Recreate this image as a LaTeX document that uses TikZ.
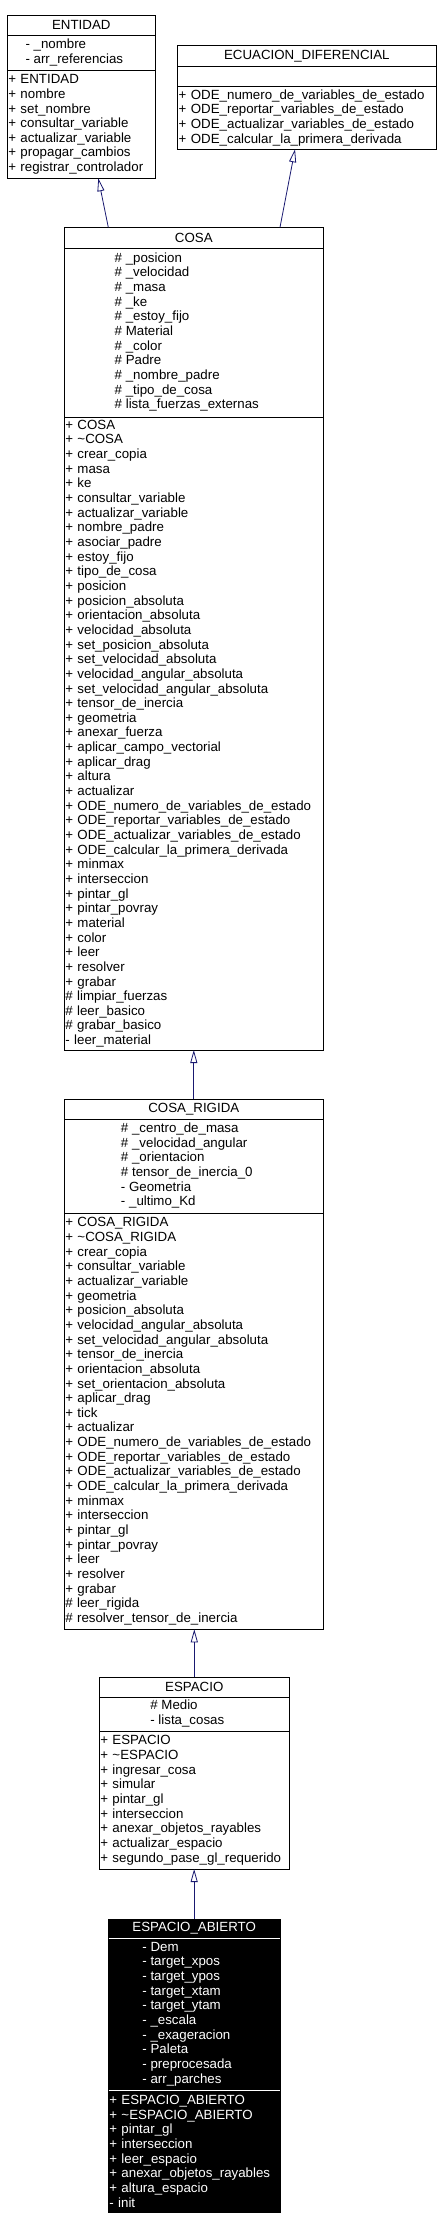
\documentclass[tikz,border=0pt]{standalone}
\usepackage{fontspec}
\setmainfont{Liberation Sans}
\usetikzlibrary{positioning,arrows.meta}
\definecolor{edgeblue}{HTML}{191970}
\newcommand{\attrs}[1]{\begin{tabular}{@{}l@{}}#1\end{tabular}\hspace*{14pt}}

\begin{document}
\begin{tikzpicture}[x=1pt, y=-1pt,
        box/.style={rectangle, draw, line width=0.8pt, outer sep=0pt, inner xsep=1pt, inner ysep=0pt, font=\fontsize{13.3}{14.65}\selectfont},
        title/.style={box, anchor=north west, minimum height=20pt},
        ops/.style={box, align=left},
        dark/.style={fill=black, text=white},
        inherit/.style={draw=edgeblue, line width=0.8pt, -{Triangle[open, length=13pt, width=7pt]}}]
        \useasboundingbox (0,0) rectangle (441,2230);

        \node (entidad) [title, minimum width=148pt, minimum height=19.3pt] at (7.3,15.7) {ENTIDAD};
        \node (entidadattr) [box, minimum width=148pt, minimum height=35.7pt, below=0pt of entidad] {\attrs{- \_nombre\\- arr\_referencias}};
        \node (entidadops) [ops, text width=146pt, minimum height=107.6pt, below=0pt of entidadattr] {+ ENTIDAD\\+ nombre\\+ set\_nombre\\+ consultar\_variable\\+ actualizar\_variable\\+ propagar\_cambios\\+ registrar\_controlador};

        \node (ecuacion) [title, minimum width=258.3pt, minimum height=20.3pt] at (177.7,45.7) {ECUACION\_DIFERENCIAL};
        \node (ecuacionattr) [box, minimum width=258.3pt, minimum height=20pt, below=0pt of ecuacion] {};
        \node (ecuacionops) [ops, text width=256.3pt, minimum height=63.3pt, below=0pt of ecuacionattr] {+ ODE\_numero\_de\_variables\_de\_estado\\+ ODE\_reportar\_variables\_de\_estado\\+ ODE\_actualizar\_variables\_de\_estado\\+ ODE\_calcular\_la\_primera\_derivada};

        \node (cosa) [title, minimum width=259pt, minimum height=20.7pt] at (64.3,227.3) {COSA};
        \node (cosaattr) [box, minimum width=259pt, minimum height=169.3pt, below=0pt of cosa] {\attrs{\# \_posicion\\\# \_velocidad\\\# \_masa\\\# \_ke\\\# \_estoy\_fijo\\\# Material\\\# \_color\\\# Padre\\\# \_nombre\_padre\\\# \_tipo\_de\_cosa\\\# lista\_fuerzas\_externas}};
        \node (cosaops) [ops, text width=257pt, minimum height=632.7pt, below=0pt of cosaattr] {+ COSA\\+ \textasciitilde COSA\\+ crear\_copia\\+ masa\\+ ke\\+ consultar\_variable\\+ actualizar\_variable\\+ nombre\_padre\\+ asociar\_padre\\+ estoy\_fijo\\+ tipo\_de\_cosa\\+ posicion\\+ posicion\_absoluta\\+ orientacion\_absoluta\\+ velocidad\_absoluta\\+ set\_posicion\_absoluta\\+ set\_velocidad\_absoluta\\+ velocidad\_angular\_absoluta\\+ set\_velocidad\_angular\_absoluta\\+ tensor\_de\_inercia\\+ geometria\\+ anexar\_fuerza\\+ aplicar\_campo\_vectorial\\+ aplicar\_drag\\+ altura\\+ actualizar\\+ ODE\_numero\_de\_variables\_de\_estado\\+ ODE\_reportar\_variables\_de\_estado\\+ ODE\_actualizar\_variables\_de\_estado\\+ ODE\_calcular\_la\_primera\_derivada\\+ minmax\\+ interseccion\\+ pintar\_gl\\+ pintar\_povray\\+ material\\+ color\\+ leer\\+ resolver\\+ grabar\\\# limpiar\_fuerzas\\\# leer\_basico\\\# grabar\_basico\\- leer\_material};

        \node (cosarigida) [title, minimum width=259pt] at (64.3,1099.3) {COSA\_RIGIDA};
        \node (cosarigidaattr) [box, minimum width=259pt, minimum height=94pt, below=0pt of cosarigida] {\attrs{\# \_centro\_de\_masa\\\# \_velocidad\_angular\\\# \_orientacion\\\# tensor\_de\_inercia\_0\\- Geometria\\- \_ultimo\_Kd}};
        \node (cosarigidaops) [ops, text width=257pt, minimum height=416pt, below=0pt of cosarigidaattr] {+ COSA\_RIGIDA\\+ \textasciitilde COSA\_RIGIDA\\+ crear\_copia\\+ consultar\_variable\\+ actualizar\_variable\\+ geometria\\+ posicion\_absoluta\\+ velocidad\_angular\_absoluta\\+ set\_velocidad\_angular\_absoluta\\+ tensor\_de\_inercia\\+ orientacion\_absoluta\\+ set\_orientacion\_absoluta\\+ aplicar\_drag\\+ tick\\+ actualizar\\+ ODE\_numero\_de\_variables\_de\_estado\\+ ODE\_reportar\_variables\_de\_estado\\+ ODE\_actualizar\_variables\_de\_estado\\+ ODE\_calcular\_la\_primera\_derivada\\+ minmax\\+ interseccion\\+ pintar\_gl\\+ pintar\_povray\\+ leer\\+ resolver\\+ grabar\\\# leer\_rigida\\\# resolver\_tensor\_de\_inercia};

        \node (espacio) [title, minimum width=190pt] at (99.3,1677.3) {ESPACIO};
        \node (espacioattr) [box, minimum width=190pt, minimum height=34pt, below=0pt of espacio] {\attrs{\# Medio\\- lista\_cosas}};
        \node (espacioops) [ops, text width=188pt, minimum height=137.7pt, below=0pt of espacioattr] {+ ESPACIO\\+ \textasciitilde ESPACIO\\+ ingresar\_cosa\\+ simular\\+ pintar\_gl\\+ interseccion\\+ anexar\_objetos\_rayables\\+ actualizar\_espacio\\+ segundo\_pase\_gl\_requerido};

        \node (abierto) [title, dark, minimum width=171.7pt, minimum height=19.3pt] at (108.3,1919) {ESPACIO\_ABIERTO};
        \node (abiertoattr) [box, dark, minimum width=171.7pt, minimum height=151.7pt, below=0pt of abierto] {\attrs{- Dem\\- target\_xpos\\- target\_ypos\\- target\_xtam\\- target\_ytam\\- \_escala\\- \_exageracion\\- Paleta\\- preprocesada\\- arr\_parches}};
        \node (abiertoops) [ops, dark, text width=169.7pt, minimum height=122.7pt, below=0pt of abiertoattr] {+ ESPACIO\_ABIERTO\\+ \textasciitilde ESPACIO\_ABIERTO\\+ pintar\_gl\\+ interseccion\\+ leer\_espacio\\+ anexar\_objetos\_rayables\\+ altura\_espacio\\- init};
        \draw [white, line width=0.8pt] ([xshift=0.4pt]abiertoattr.north west) -- ([xshift=-0.4pt]abiertoattr.north east);
        \draw [white, line width=0.8pt] ([xshift=0.4pt]abiertoops.north west) -- ([xshift=-0.4pt]abiertoops.north east);

        \draw [inherit] ([xshift=-85.5pt]cosa.north) -- ([xshift=17pt]entidadops.south);
        \draw [inherit] ([xshift=86.2pt]cosa.north) -- ([xshift=-11.8pt]ecuacionops.south);
        \draw [inherit] (cosarigida.north) -- (cosaops.south);
        \draw [inherit] (espacio.north) -- (espacio.north |- cosarigidaops.south);
        \draw [inherit] (abierto.north) -- (abierto.north |- espacioops.south);
\end{tikzpicture}
\end{document}
